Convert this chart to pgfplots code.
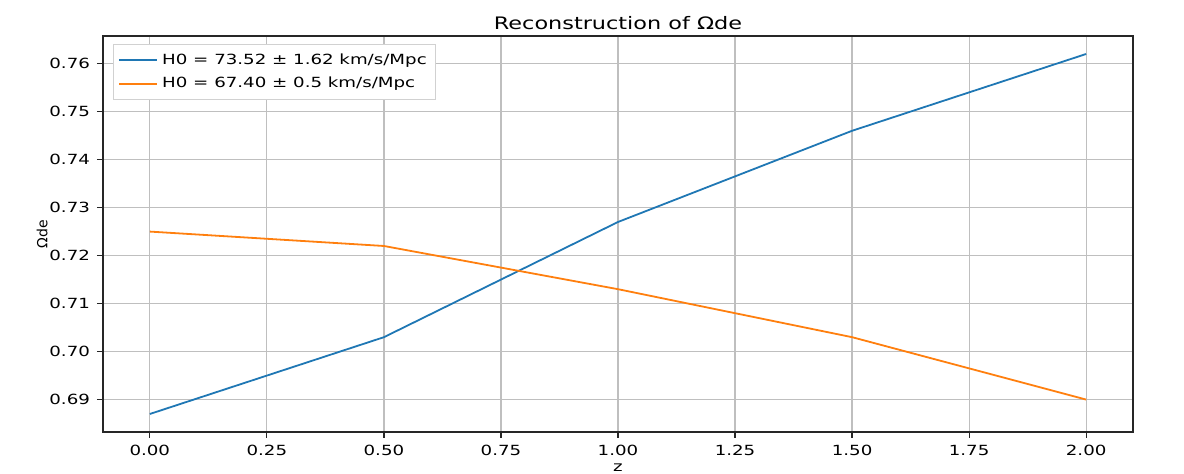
\documentclass[border=0pt]{standalone}
\usepackage{pgfplots}
\pgfplotsset{compat=1.18}
\usepackage{fontspec}
\setmainfont{DejaVu Sans}[FakeStretch=1.3]
\newfontfamily\plainfont{DejaVu Sans}
\definecolor{tabblue}{HTML}{1F77B4}
\definecolor{taborange}{HTML}{FF7F0E}
\begin{document}
\begin{tikzpicture}[font=\fontsize{7}{8.5}\selectfont]
\begin{axis}[
  at={(0,0)}, anchor=south west,
  width=515pt, height=198pt, scale only axis,
  xmin=-0.1, xmax=2.1, ymin=0.68325, ymax=0.76575,
  xtick={0,0.25,...,2},
  ytick={0.69,0.70,...,0.765},
  xticklabel style={/pgf/number format/.cd,fixed,fixed zerofill,precision=2},
  yticklabel style={/pgf/number format/.cd,fixed,fixed zerofill,precision=2},
  /pgf/number format/assume math mode=true,
  grid=major,
  major grid style={color=black!25, line width=0.6pt},
  axis line style={line width=0.7pt, black!85},
  tick style={black!85, line width=0.6pt},
  tick align=outside, tick pos=left,
  major tick length=3pt,
  title={Reconstruction of Ωde},
  title style={at={(axis description cs:0.5,1)}, anchor=base, yshift=-3pt, font=\fontsize{8.6}{10}\selectfont},
  xlabel={z}, ylabel={\plainfont Ωde},
  xlabel style={yshift=3pt},
  ylabel style={yshift=-6pt},
  legend style={at={(axis cs:-0.1,0.76575)}, anchor=north west, xshift=5pt, yshift=-4pt,
    draw=black!18, fill=white,
    legend cell align=left, font=\fontsize{7}{8.5}\selectfont, inner sep=2.5pt, row sep=1pt},
  legend image code/.code={\draw[#1] (0pt,0pt) -- (19pt,0pt);},
]
\addplot[color=tabblue, line width=0.9pt] coordinates {
 (0,0.687) (0.5,0.703) (1.0,0.727) (1.5,0.746) (2.0,0.762)};
\addlegendentry{H0 = 73.52 ± 1.62 km/s/Mpc}
\addplot[color=taborange, line width=0.9pt] coordinates {
 (0,0.725) (0.5,0.722) (1.0,0.713) (1.5,0.703) (2.0,0.690)};
\addlegendentry{H0 = 67.40 ± 0.5 km/s/Mpc}
\end{axis}
\pgfresetboundingbox
\path (-51.5pt,-21pt) rectangle (540.5pt,216pt);
\end{tikzpicture}
\end{document}
